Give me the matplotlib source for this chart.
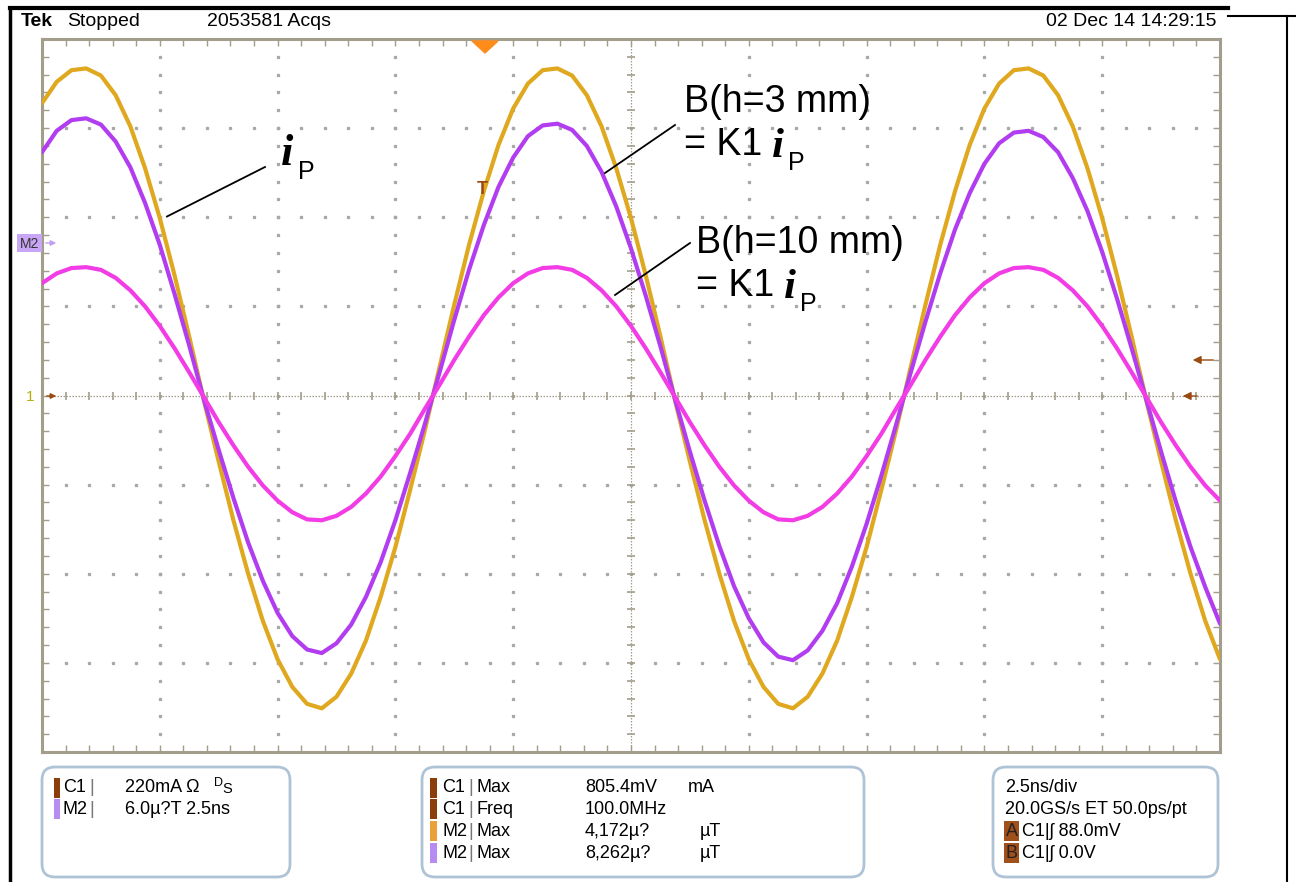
import numpy as np
import matplotlib
matplotlib.use('Agg')
import matplotlib.pyplot as plt
from matplotlib.patches import FancyBboxPatch, Rectangle, Polygon

plt.rcParams['font.family'] = ['Liberation Sans', 'DejaVu Sans']

# ---------------- данные осциллограммы (в делениях, 2.5 нс/дел) ----------------
time_ns = np.linspace(0, 25, 81)

# ток i_P (жёлтый)
i_p = [3.28, 3.52, 3.65, 3.67, 3.59, 3.37, 3.02, 2.55, 1.99, 1.35, 0.66,
       -0.06, -0.74, -1.40, -2.00, -2.53, -2.96, -3.27, -3.46,
       -3.51, -3.38, -3.12, -2.75, -2.26, -1.70, -1.06, -0.39,
       0.32, 1.02, 1.69, 2.29, 2.81, 3.22, 3.50, 3.65,
       3.67, 3.59, 3.37, 3.02, 2.55, 1.99, 1.35, 0.66,
       -0.06, -0.74, -1.40, -2.00, -2.53, -2.96, -3.27, -3.46,
       -3.51, -3.38, -3.12, -2.75, -2.26, -1.70, -1.06, -0.39,
       0.32, 1.02, 1.69, 2.29, 2.81, 3.22, 3.50, 3.65,
       3.67, 3.59, 3.37, 3.02, 2.55, 1.99, 1.35, 0.66,
       -0.06, -0.74, -1.40, -2.00, -2.53, -2.96]

# B(h=3 mm) (фиолетовый)
b_3mm = [2.73, 2.97, 3.09, 3.11, 3.04, 2.85, 2.56, 2.16, 1.69, 1.14, 0.56,
         -0.05, -0.61, -1.15, -1.65, -2.08, -2.44, -2.70, -2.85,
         -2.89, -2.78, -2.57, -2.26, -1.87, -1.40, -0.87, -0.32,
         0.26, 0.85, 1.41, 1.91, 2.34, 2.67, 2.91, 3.03,
         3.05, 2.98, 2.80, 2.51, 2.12, 1.65, 1.12, 0.55,
         -0.05, -0.63, -1.18, -1.69, -2.14, -2.50, -2.77, -2.93,
         -2.97, -2.86, -2.64, -2.33, -1.92, -1.44, -0.90, -0.33,
         0.26, 0.83, 1.37, 1.86, 2.27, 2.60, 2.83, 2.95,
         2.97, 2.90, 2.73, 2.44, 2.07, 1.61, 1.09, 0.53,
         -0.05, -0.63, -1.19, -1.70, -2.15, -2.56]

# B(h=10 mm) (малиновый)
b_10mm = [1.26, 1.37, 1.43, 1.44, 1.41, 1.32, 1.18, 1.00, 0.78, 0.53, 0.26,
          -0.02, -0.30, -0.56, -0.80, -1.01, -1.18, -1.31, -1.39,
          -1.40, -1.35, -1.25, -1.10, -0.91, -0.68, -0.43, -0.15,
          0.12, 0.40, 0.66, 0.90, 1.10, 1.26, 1.37, 1.43,
          1.44, 1.41, 1.32, 1.18, 1.00, 0.78, 0.53, 0.26,
          -0.02, -0.30, -0.56, -0.80, -1.01, -1.18, -1.31, -1.39,
          -1.40, -1.35, -1.25, -1.10, -0.91, -0.68, -0.43, -0.15,
          0.12, 0.40, 0.66, 0.90, 1.10, 1.26, 1.37, 1.43,
          1.44, 1.41, 1.32, 1.18, 1.00, 0.78, 0.53, 0.26,
          -0.02, -0.30, -0.56, -0.80, -1.01, -1.18]

# тексты панелей прибора
panel1_rows = [('C1', '220mA Ω', '#8B3E0A'), ('M2', '6.0µ?T 2.5ns', '#B68CF2')]
panel2_rows = [('C1', 'Max', '805.4mV', 'mA', '#8B3E0A'),
               ('C1', 'Freq', '100.0MHz', '', '#8B3E0A'),
               ('M2', 'Max', '4,172µ?', 'µT', '#E9A23B'),
               ('M2', 'Max', '8,262µ?', 'µT', '#B68CF2')]

W, H = 1296, 882
fig = plt.figure(figsize=(W / 100, H / 100), dpi=100)
fig.patch.set_facecolor('white')

# ---------------- сетка осциллографа ----------------
ax = fig.add_axes([42 / W, 1 - 752 / H, (1220 - 42) / W, (752 - 39) / H])
ax.set_xlim(0, 25)
ax.set_ylim(-4, 4)
grid_c = '#a8a8a8'
frame_c = '#a39e8c'

minor_x = np.arange(0, 25.001, 0.5)
minor_y = np.arange(-4, 4.001, 0.2)
for gx in np.arange(2.5, 25, 2.5):
    if abs(gx - 12.5) > 0.01:
        ax.plot(np.full(len(minor_y), gx), minor_y, ls='none', marker='s',
                ms=1.4, color=grid_c, zorder=1)
for gy in [-3, -2, -1, 1, 2, 3]:
    ax.plot(minor_x, np.full(len(minor_x), gy), ls='none', marker='s',
            ms=1.4, color=grid_c, zorder=1)

# центральные оси с рисками
ax.axhline(0, color=frame_c, lw=0.9, ls=(0, (1.2, 1.2)), zorder=1)
ax.axvline(12.5, color=frame_c, lw=0.9, ls=(0, (1.2, 1.2)), zorder=1)
ax.plot(minor_x, np.zeros(len(minor_x)), ls='none', marker='|', ms=6,
        mew=1.2, color=frame_c, zorder=1)
ax.plot(np.full(len(minor_y), 12.5), minor_y, ls='none', marker='_', ms=6,
        mew=1.2, color=frame_c, zorder=1)

ax.set_xticks(np.arange(0, 25.01, 2.5))
ax.set_xticks(minor_x, minor=True)
ax.set_yticks(np.arange(-4, 4.01, 1))
ax.set_yticks(minor_y, minor=True)
ax.tick_params(which='both', direction='in', length=5, width=1, color=frame_c,
               top=True, right=True, labelbottom=False, labelleft=False)
for sp in ax.spines.values():
    sp.set_color(frame_c)
    sp.set_linewidth(2.2)

# ---------------- кривые ----------------
trace_kw = dict(lw=3.0, solid_joinstyle='round', solid_capstyle='round')
ax.plot(time_ns, i_p, color='#DFA81E', zorder=3, **trace_kw)
ax.plot(time_ns, b_3mm, color='#B23DF0', zorder=4, **trace_kw)
ax.plot(time_ns, b_10mm, color='#F23CE6', zorder=5, **trace_kw)

# ---------------- наложение в пикселях ----------------
ov = fig.add_axes([0, 0, 1, 1], zorder=5)
ov.set_xlim(0, W)
ov.set_ylim(H, 0)
ov.axis('off')

# рамка снимка
ov.plot([10, 10], [8, H], color='black', lw=2.5)
ov.plot([10, 1228], [8, 8], color='black', lw=3)
ov.plot([1228, W], [16, 16], color='black', lw=1.5)
ov.plot([1287, 1287], [16, H], color='black', lw=1.5)

# шапка
ov.text(21, 21, 'Tek', fontsize=14, fontweight='bold', va='center')
ov.text(67, 21, 'Stopped', fontsize=14, va='center')
ov.text(207, 21, '2053581 Acqs', fontsize=14, va='center')
ov.text(1216, 21, '02 Dec 14 14:29:15', fontsize=14, va='center', ha='right')

# маркеры прибора
ov.add_patch(Polygon([(472, 41), (498, 41), (485, 53)], closed=True,
                     color='#FF8C1A', zorder=6))
ov.text(482, 190, 'T', fontsize=13, fontweight='bold', color='#9A4A10',
        ha='center', va='center', zorder=6)
ov.add_patch(Rectangle((17, 234), 25, 18, facecolor='#C9A6F5', edgecolor='none'))
ov.text(29.5, 243.5, 'M2', fontsize=10, color='#333333', ha='center', va='center')
ov.annotate('', xy=(59, 243), xytext=(43, 243),
            arrowprops=dict(arrowstyle='-|>', color='#C0A0F0', lw=1,
                            mutation_scale=8))
ov.text(30, 397, '1', fontsize=11, color='#B5AE10', ha='center', va='center')
ov.annotate('', xy=(59, 396), xytext=(44, 396),
            arrowprops=dict(arrowstyle='-|>', color='#9A4A10', lw=1,
                            mutation_scale=8))
ov.annotate('', xy=(1190, 360), xytext=(1216, 360),
            arrowprops=dict(arrowstyle='-|>', color='#9A4A10', lw=1,
                            mutation_scale=12))
ov.annotate('', xy=(1180, 396), xytext=(1200, 396),
            arrowprops=dict(arrowstyle='-|>', color='#9A4A10', lw=1,
                            mutation_scale=12))

# подписи кривых
serif = ['Liberation Serif', 'DejaVu Serif']
ov.plot([265, 167], [167, 216.5], color='black', lw=1.3)
ov.text(281, 165, 'i', fontsize=32, fontweight='bold', fontstyle='italic',
        family=serif)
ov.text(298, 179, 'P', fontsize=18)

ov.plot([675, 605], [125, 173], color='black', lw=1.3)
ov.text(684, 102, 'B(h=3 mm)', fontsize=27, va='center')
ov.text(684, 145, '= K1', fontsize=27, va='center')
ov.text(772, 157, 'i', fontsize=31, fontweight='bold', fontstyle='italic',
        family=serif)
ov.text(788, 170, 'P', fontsize=18)

ov.plot([690, 615], [243, 295], color='black', lw=1.3)
ov.text(696, 243, 'B(h=10 mm)', fontsize=27, va='center')
ov.text(696, 286, '= K1', fontsize=27, va='center')
ov.text(784, 298, 'i', fontsize=31, fontweight='bold', fontstyle='italic',
        family=serif)
ov.text(800, 311, 'P', fontsize=18)

# ---------------- нижние панели ----------------
box_c = '#AFC3D6'
for x0, x1 in [(42, 290), (422, 864), (993, 1218)]:
    ov.add_patch(FancyBboxPatch((x0, 767), x1 - x0, 110,
                                boxstyle='round,pad=0,rounding_size=13',
                                facecolor='white', edgecolor=box_c, lw=2))

fs = 13
rows_y = [788, 809, 831, 853]
for n, (ch, val, col) in enumerate(panel1_rows):
    y = rows_y[n]
    ov.add_patch(Rectangle((54, y - 10), 6, 20, facecolor=col, edgecolor='none'))
    ov.text(63, y, ch, fontsize=fs, va='center')
    ov.text(89, y, '|', fontsize=fs, va='center', color='#777777')
    ov.text(125, y, val, fontsize=fs, va='center')
ov.text(214, 783, 'D', fontsize=9, va='center')
ov.text(222, 789, 'S', fontsize=10.5, va='center')

for n, (ch, meas, val, unit, col) in enumerate(panel2_rows):
    y = rows_y[n]
    ov.add_patch(Rectangle((430, y - 10), 7, 20, facecolor=col, edgecolor='none'))
    ov.text(442, y, ch, fontsize=fs, va='center')
    ov.text(468, y, '|', fontsize=fs, va='center', color='#777777')
    ov.text(476, y, meas, fontsize=fs, va='center')
    ov.text(585, y, val, fontsize=fs, va='center')
    if unit:
        ov.text(688 if n == 0 else 700, y, unit, fontsize=fs, va='center')

ov.text(1005, rows_y[0], '2.5ns/div', fontsize=fs, va='center')
ov.text(1005, rows_y[1], '20.0GS/s ET 50.0ps/pt', fontsize=fs, va='center')
for n, (lab, val) in enumerate([('A', '88.0mV'), ('B', '0.0V')]):
    y = rows_y[2 + n]
    ov.add_patch(Rectangle((1004, y - 10), 15, 20, facecolor='#A0501A',
                           edgecolor='none'))
    ov.text(1011.5, y, lab, fontsize=fs, va='center', ha='center', color='#222222')
    ov.text(1022, y, 'C1|ʃ ' + val, fontsize=fs, va='center')

plt.savefig('out.png', dpi=100)
